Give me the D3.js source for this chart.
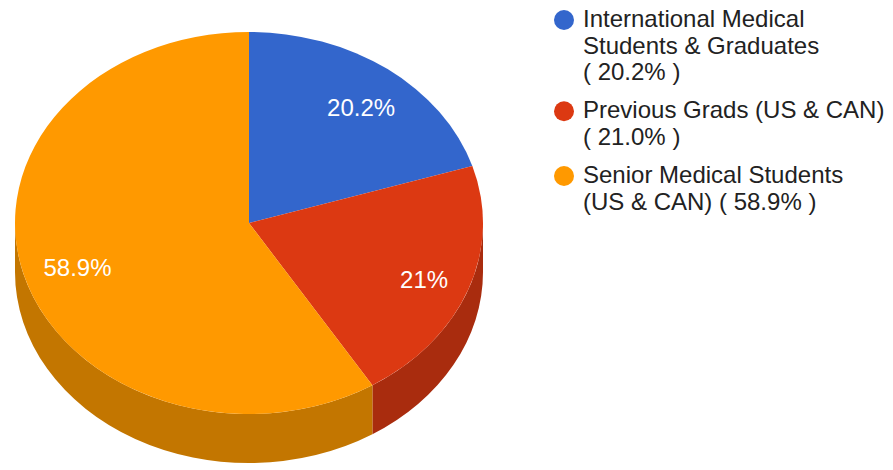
<!DOCTYPE html>
<html>
<head>
<meta charset="utf-8">
<script src="https://cdn.jsdelivr.net/npm/d3@7"></script>
<style>
  body { margin: 0; background: #fff; }
  text { font-family: "Liberation Sans", Arial, sans-serif; }
</style>
</head>
<body>
<div id="container"></div>
<script>
/* DATA */
const categories = ["International Medical Students & Graduates", "Previous Grads (US & CAN)", "Senior Medical Students (US & CAN)"];
const values = [20.2, 21.0, 58.9];
const sliceLabels = ["20.2%", "21%", "58.9%"];
// legend text as it wraps in the original
const legendLines = [
  ["International Medical", "Students & Graduates", "( 20.2% )"],
  ["Previous Grads (US & CAN)", "( 21.0% )"],
  ["Senior Medical Students", "(US & CAN) ( 58.9% )"]
];
const colors = ["#3366cc", "#dc3912", "#ff9900"];
const sideColors = ["#284fa0", "#a92c0e", "#c37600"];

/* CONSTANTS */
const width = 893, height = 470;
const cx = 249, cy = 223, rx = 234, ry = 191, depth = 49;
const fontSize = 24;

const svg = d3.select("#container").append("svg")
  .attr("width", width)
  .attr("height", height)
  .style("background-color", "#fff");

const pie = d3.pie().sort(null).value(d => d)(values);

// point on the top ellipse, angle measured clockwise from 12 o'clock
const pt = (a, dy = 0) => [cx + rx * Math.sin(a), cy - ry * Math.cos(a) + dy];

function topPath(d) {
  const [x0, y0] = pt(d.startAngle), [x1, y1] = pt(d.endAngle);
  const large = d.endAngle - d.startAngle > Math.PI ? 1 : 0;
  return `M${cx},${cy}L${x0},${y0}A${rx},${ry} 0 ${large} 1 ${x1},${y1}Z`;
}

function sidePath(d) {
  const s = Math.max(d.startAngle, Math.PI / 2), e = Math.min(d.endAngle, Math.PI * 1.5);
  if (e <= s) return null;
  const [x0, y0] = pt(s), [x1, y1] = pt(e);
  const large = e - s > Math.PI ? 1 : 0;
  return `M${x0},${y0}A${rx},${ry} 0 ${large} 1 ${x1},${y1}` +
    `L${x1},${y1 + depth}A${rx},${ry} 0 ${large} 0 ${x0},${y0 + depth}Z`;
}

// sides first
svg.append("g").selectAll("path")
  .data(pie.filter(d => sidePath(d)))
  .join("path")
  .attr("d", sidePath)
  .attr("fill", d => sideColors[d.index]);

// top faces
svg.append("g").selectAll("path")
  .data(pie)
  .join("path")
  .attr("d", topPath)
  .attr("fill", d => colors[d.index]);

// slice labels
const lf = 0.78;
svg.append("g").selectAll("text")
  .data(pie)
  .join("text")
  .attr("x", d => cx + 4 + rx * lf * Math.sin((d.startAngle + d.endAngle) / 2))
  .attr("y", d => cy + 4 - ry * lf * Math.cos((d.startAngle + d.endAngle) / 2))
  .attr("dy", "0.36em")
  .attr("text-anchor", "middle")
  .attr("font-size", fontSize)
  .attr("fill", "#fff")
  .text(d => sliceLabels[d.index]);

// LEGEND
const lineH = 26.6, gap = 11.5;
let y = 27;
const legend = svg.append("g");
legendLines.forEach((lines, i) => {
  legend.append("circle")
    .attr("cx", 564)
    .attr("cy", y - 7)
    .attr("r", 10)
    .attr("fill", colors[i]);
  lines.forEach((t, j) => {
    legend.append("text")
      .attr("x", 583)
      .attr("y", y + j * lineH)
      .attr("font-size", fontSize)
      .attr("fill", "#222")
      .text(t);
  });
  y += lines.length * lineH + gap;
});
</script>
</body>
</html>
